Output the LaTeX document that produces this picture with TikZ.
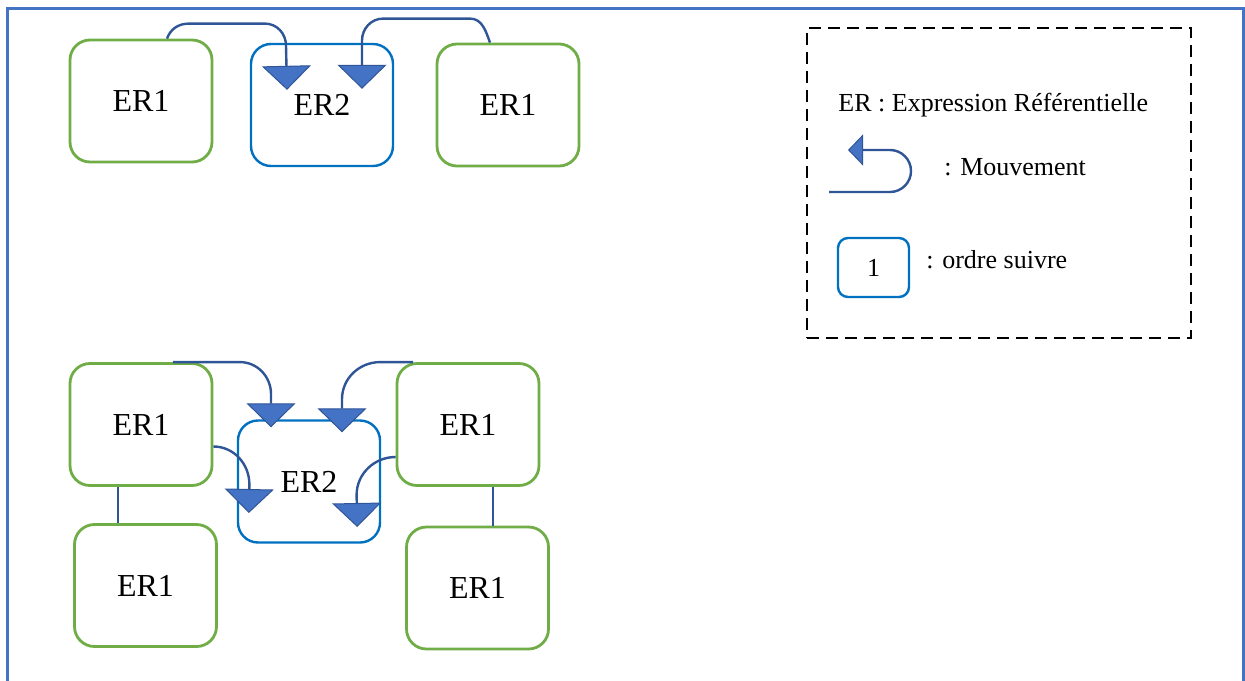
\documentclass[tikz,border=0pt]{standalone}
\usepackage{fontspec}
\setmainfont{Liberation Serif}
\usetikzlibrary{arrows.meta,calc}
\definecolor{ergreen}{HTML}{70AD47}
\definecolor{erblue}{HTML}{0070C0}
\definecolor{frameblue}{HTML}{4472C4}
\definecolor{movedark}{HTML}{2F5597}

\begin{document}
\begin{tikzpicture}[x=0.5pt,y=0.5pt,
  erone/.style={rounded corners=10pt,draw=ergreen,line width=1.4pt,
    minimum width=71pt,minimum height=61pt,inner sep=0pt,
    font=\fontsize{16}{18}\selectfont},
  ertwo/.style={erone,draw=erblue,line width=1.2pt},
  move/.style={draw=movedark,line width=1.2pt,
    -{Triangle[width=24.5pt,length=12pt,line width=.5pt,fill=frameblue]}},
  legmove/.style={move,-{Triangle[width=15.5pt,length=7.5pt,line width=.5pt,fill=frameblue]}},
  link/.style={draw=movedark,line width=1.2pt},
  legendbox/.style={draw=black,line width=1.2pt,dash pattern=on 6pt off 3.5pt,
    minimum width=192pt,minimum height=155pt},
  numbox/.style={ertwo,rounded corners=5pt,minimum width=35.5pt,minimum height=29.5pt,
    font=\fontsize{13}{15}\selectfont},
  legtext/.style={anchor=west,inner sep=0pt,font=\fontsize{13}{15}\selectfont}
]
\useasboundingbox (0,0) rectangle (1245,-680);
\draw[frameblue,line width=1.5pt] (7.5,-690) -- (7.5,-8) -- (1243,-8) -- (1243,-690);

% first case
\node[erone] (t1) at (141,-101) {ER1};
\node[ertwo] (t2) at (322,-105) {ER2};
\node[erone] (t3) at (508,-105) {ER1};
\draw[move] ($(t1.north)+(26,0)$) to[out=70,in=180] ++(22,15) -- ++(76,0)
  to[out=0,in=90] ++(21,-22) -- ($(t2.north)+(-35,-47)$);
\draw[move] ($(t3.north)+(-18,0)$) to[out=110,in=0] ++(-20,24) -- ++(-87,0)
  to[out=180,in=90] ++(-21,-22) -- ($(t2.north)+(40,-46)$);

% second case
\node[erone] (b1) at (141,-424.5) {ER1};
\node[ertwo] (b2) at (309,-481.5) {ER2};
\node[erone] (b3) at (468,-424.5) {ER1};
\node[erone] (b4) at (145.5,-585.5) {ER1};
\node[erone] (b5) at (477.5,-588) {ER1};
\draw[move] ($(b1.north)+(32,0)$) -- ++(67,0)
  to[out=0,in=90] ++(31,-32) -- ($(b2.north)+(-38,-8)$);
\draw[move] ($(b3.north)+(-55,0)$) -- ++(-33,0)
  to[out=180,in=90] ++(-38,-37) -- ($(b2.north)+(33,-13)$);
\draw[move] ($(b1.east)+(0,-22)$) to[out=0,in=90] ++(36,-38)
  -- ($(b2.west)+(12,-31.5)$);
\draw[move] ($(b3.west)+(0,-32.5)$) to[out=180,in=90] ++(-39,-38)
  -- ($(b2.east)+(-24,-45.5)$);
\draw[link] ($(b1.south)+(-23,0)$) coordinate (l1) -- (l1 |- b4.north);
\draw[link] ($(b3.south)+(25,0)$) coordinate (l2) -- (l2 |- b5.north);

% legend
\node[legendbox] (legend) at (999,-183) {};
\node[legtext] (erdef) at (838,-105) {ER : Expression Référentielle};
\coordinate (mvstart) at (829,-192);
\coordinate (mvend) at (848,-150);
\draw[legmove] (mvstart) -- ++(61,0) arc[start angle=-90,end angle=90,radius=21] -- (mvend);
\node[legtext] (mvtext) at (944,-167) {: Mouvement};
\node[numbox] (num) at (873.5,-267.5) {1};
\node[legtext] (numtext) at (926,-260) {: ordre suivre};
\end{tikzpicture}
\end{document}
